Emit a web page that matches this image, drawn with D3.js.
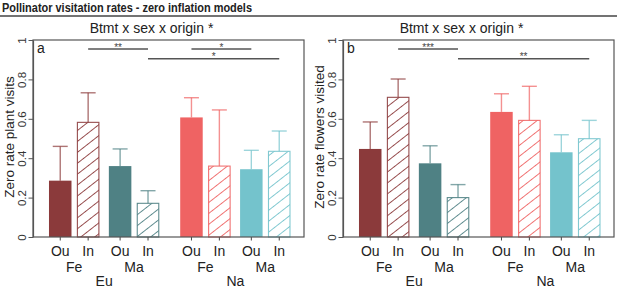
<!DOCTYPE html>
<html><head><meta charset="utf-8">
<script src="https://cdn.jsdelivr.net/npm/d3@7"></script>
<style>body{margin:0;background:#fff}svg{display:block}text{font-family:"Liberation Sans",Arial,sans-serif}</style>
</head><body>
<svg id="c" width="617" height="288"></svg>
<script>
const mainTitle = "Pollinator visitation rates - zero inflation models";
const subTitle = "Btmt x sex x origin *";
const origins = ["Eu","Na"];
const sexes = ["Fe","Ma"];
const treatments = ["Ou","In"];
const yTicks = [0,0.2,0.4,0.6,0.8,1];
const yTickLabels = ["0","0.2","0.4","0.6","0.8","1"];
const panelLetters = ["a","b"];
const yLabels = ["Zero rate plant visits","Zero rate flowers visited"];
// order: Eu-Fe-Ou, Eu-Fe-In, Eu-Ma-Ou, Eu-Ma-In, Na-Fe-Ou, Na-Fe-In, Na-Ma-Ou, Na-Ma-In
const plantMeans  = [0.286,0.582,0.360,0.171,0.607,0.360,0.344,0.435];
const plantUpper  = [0.460,0.732,0.447,0.235,0.707,0.645,0.440,0.538];
const flowerMeans = [0.447,0.709,0.374,0.200,0.635,0.592,0.430,0.499];
const flowerUpper = [0.584,0.802,0.463,0.266,0.727,0.765,0.519,0.592];
// significance brackets: [fromBar, toBar, level, label]
const plantSig  = [[1,3,0,"**"],[4,6,0,"*"],[3,7,1,"*"]];
const flowerSig = [[1,3,0,"***"],[3,7,1,"**"]];
const groupColors = {"Eu-Fe":"#8b3a3b","Eu-Ma":"#4f8184","Na-Fe":"#ef6363","Na-Ma":"#74c3cc"};

const svg = d3.select("#c");
svg.append("text").attr("x",2).attr("y",12).attr("font-size",12.5).attr("font-weight","bold").attr("fill","#222")
  .attr("textLength",250).attr("lengthAdjust","spacingAndGlyphs").text(mainTitle);
svg.append("line").attr("x1",0).attr("x2",617).attr("y1",16).attr("y2",16).attr("stroke","#444").attr("stroke-width",1.5);

const bars = [];
let pos = 0, idx = 0;
origins.forEach((o,oi)=>{
  sexes.forEach((s,si)=>{
    treatments.forEach((t,ti)=>{
      bars.push({o,s,t,left:pos,idx});
      idx++;
      pos += 1 + (ti===0 ? 0.24 : (si===0 ? 0.42 : 0.93));
    });
  });
});

const defs = svg.append("defs");
Object.entries(groupColors).forEach(([k,c])=>{
  const p = defs.append("pattern").attr("id","h"+k).attr("patternUnits","userSpaceOnUse")
    .attr("width",10).attr("height",8.6).attr("patternTransform","rotate(-38)");
  p.append("rect").attr("width",10).attr("height",8.6).attr("fill","#fff");
  p.append("line").attr("x1",0).attr("x2",10).attr("y1",4.3).attr("y2",4.3).attr("stroke",c).attr("stroke-width",0.9);
});

const y = d3.scaleLinear().domain([0,1]).range([237,40]);

function panel(off, means, upper, sig, pi){
  const x = d3.scaleLinear().domain([-0.71,11.33]).range([33+off,304+off]);
  const bw = x(1)-x(0);
  const g = svg.append("g");
  bars.forEach((b,i)=>{
    const c = groupColors[b.o+"-"+b.s];
    const cx = x(b.left+0.5);
    if(b.t==="Ou"){
      g.append("rect").attr("x",x(b.left)).attr("width",bw).attr("y",y(means[i])).attr("height",y(0)-y(means[i])).attr("fill",c);
    } else {
      g.append("rect").attr("x",x(b.left)+0.5).attr("width",bw-1).attr("y",y(means[i])).attr("height",y(0)-y(means[i]))
        .attr("fill","url(#h"+b.o+"-"+b.s+")").attr("stroke",c).attr("stroke-width",1.1).attr("stroke-opacity",0.9);
    }
    g.append("line").attr("x1",cx).attr("x2",cx).attr("y1",y(means[i])).attr("y2",y(upper[i])).attr("stroke",c).attr("stroke-opacity",0.7).attr("stroke-width",1.4);
    g.append("line").attr("x1",cx-7.5).attr("x2",cx+7.5).attr("y1",y(upper[i])).attr("y2",y(upper[i])).attr("stroke",c).attr("stroke-opacity",0.7).attr("stroke-width",1.4);
    g.append("line").attr("x1",cx).attr("x2",cx).attr("y1",237).attr("y2",240.5).attr("stroke","#444").attr("stroke-width",1);
    g.append("text").attr("x",cx).attr("y",256).attr("text-anchor","middle").attr("font-size",14).attr("fill","#222").text(b.t);
  });
  origins.forEach(o=>{
    sexes.forEach(s=>{
      const bb = bars.filter(b=>b.o===o&&b.s===s);
      const cx = (x(bb[0].left+0.5)+x(bb[1].left+0.5))/2;
      g.append("text").attr("x",cx).attr("y",271.5).attr("text-anchor","middle").attr("font-size",14).attr("fill","#222").text(s);
    });
    const bb = bars.filter(b=>b.o===o);
    const cx = (x(bb[0].left+0.5)+x(bb[3].left+0.5))/2;
    g.append("text").attr("x",cx).attr("y",286).attr("text-anchor","middle").attr("font-size",14).attr("fill","#222").text(o);
  });
  g.append("rect").attr("x",33+off).attr("y",40).attr("width",271).attr("height",197).attr("fill","none").attr("stroke","#555").attr("stroke-width",1.2);
  const ax = g.append("g").attr("transform",`translate(${33+off},0)`).call(d3.axisLeft(y).tickValues(yTicks).tickFormat((d,i)=>yTickLabels[i]).tickSize(4.5).tickSizeOuter(0));
  ax.select(".domain").attr("stroke","#555").attr("stroke-width",1.2);
  ax.selectAll(".tick line").attr("stroke","#555");
  ax.selectAll(".tick text").attr("font-size",11.5).attr("fill","#333").attr("font-family","Liberation Sans, Arial, sans-serif")
    .attr("x",0).attr("y",0).attr("dy",null).attr("dx",null)
    .attr("text-anchor","middle").attr("transform","translate(-7,0) rotate(-90)");
  g.append("text").attr("transform",`translate(${14+off},${137}) rotate(-90)`).attr("text-anchor","middle").attr("font-size",13.5).attr("fill","#222").text(yLabels[pi]);
  g.append("text").attr("x",37+off).attr("y",53).attr("font-size",14).attr("fill","#222").text(panelLetters[pi]);
  g.append("text").attr("x",(33+304)/2+off-17).attr("y",33).attr("text-anchor","middle").attr("font-size",14).attr("fill","#222").text(subTitle);
  sig.forEach(([a,b,lev,lab])=>{
    const x1 = x(bars[a].left+0.5), x2 = x(bars[b].left+0.5);
    const yy = 49 + lev*9.7;
    g.append("line").attr("x1",x1).attr("x2",x2).attr("y1",yy).attr("y2",yy).attr("stroke","#555").attr("stroke-width",1.5);
    g.append("text").attr("x",(x1+x2)/2).attr("y",yy+1.5).attr("text-anchor","middle").attr("font-size",10).attr("fill","#444").text(lab);
  });
}
panel(0, plantMeans, plantUpper, plantSig, 0);
panel(310, flowerMeans, flowerUpper, flowerSig, 1);
</script>
</body></html>
